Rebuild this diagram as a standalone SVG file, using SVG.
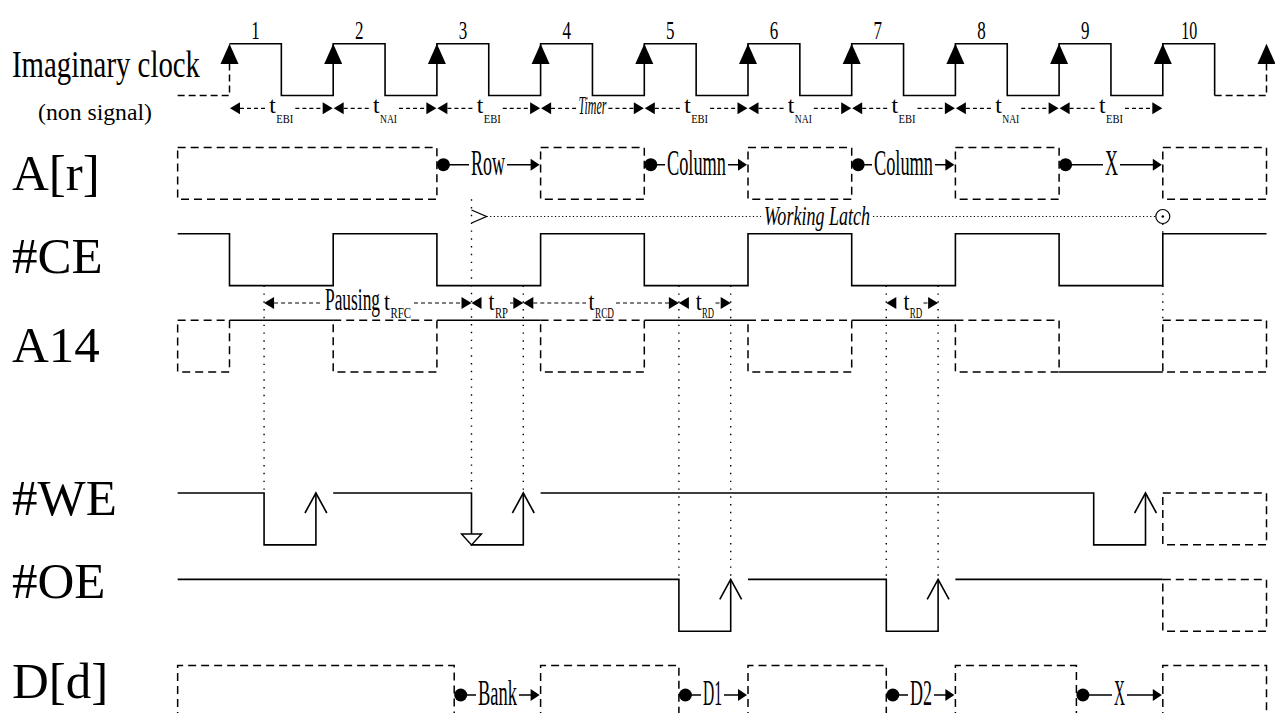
<svg xmlns="http://www.w3.org/2000/svg" xmlns:xlink="http://www.w3.org/1999/xlink" width="1275" height="713" viewBox="0 0 1275 713" font-family="'Liberation Serif', 'Times New Roman', serif">
<style>
text{fill:#000}
.s{fill:none;stroke:#000;stroke-width:1.6}
.d{fill:none;stroke:#000;stroke-width:1.5;stroke-dasharray:8 5}
.dc{fill:none;stroke:#000;stroke-width:1.5;stroke-dasharray:7 4}
.td{fill:none;stroke:#000;stroke-width:1.2;stroke-dasharray:4 3}
.dv{fill:none;stroke:#000;stroke-width:1.4;stroke-dasharray:1.4 6.4}
.dh{fill:none;stroke:#000;stroke-width:1.2;stroke-dasharray:1.2 2.4}
.f{fill:#000;stroke:none}
.big{font-size:51px}
.num{font-size:25px}
.t1{font-size:23px}
.s1{font-size:13px}
.t2{font-size:26px}
.s2{font-size:15px}
.mid{font-size:35px}
</style>
<defs>
<path id="up" d="M0,0 L-9,20.3 L9,20.3 Z" fill="#000"/>
<path id="tl" d="M0,0 L10,-6 L10,6 Z" fill="#000"/>
<path id="tr" d="M0,0 L-10,-6 L-10,6 Z" fill="#000"/>
<path id="ar" d="M0,0 L-9,-6 L-9,6 Z" fill="#000"/>
<path id="chev" d="M-10.9,20 L0,0 L10.9,20" fill="none" stroke="#000" stroke-width="1.6"/>
</defs>

<g id="labels">
<text x="12" y="77" style="font-size:37px" textLength="188" lengthAdjust="spacingAndGlyphs">Imaginary clock</text>
<text x="38" y="120" style="font-size:24px" textLength="114" lengthAdjust="spacingAndGlyphs">(non signal)</text>
<text class="big" x="12" y="190">A[r]</text>
<text class="big" x="12" y="273">#CE</text>
<text class="big" x="12" y="362">A14</text>
<text class="big" x="12" y="515">#WE</text>
<text class="big" x="12" y="598">#OE</text>
<text class="big" x="12" y="698">D[d]</text>
</g>

<g id="clock">
<path class="s" d="M229.5,43.7 H281.35 V95.55 H333.2 V43.7 H385.05 V95.55 H436.9 V43.7 H488.75 V95.55 H540.6 V43.7 H592.45 V95.55 H644.3 V43.7 H696.15 V95.55 H748 V43.7 H799.85 V95.55 H851.7 V43.7 H903.55 V95.55 H955.4 V43.7 H1007.25 V95.55 H1059.1 V43.7 H1110.95 V95.55 H1162.8 V43.7 H1214.65 V95.55"/>
<path class="dc" d="M177.65,95.55 H229.5 V64"/>
<path class="dc" d="M1214.65,95.55 H1266.5 V64"/>
<use xlink:href="#up" x="229.5" y="43.7"/>
<use xlink:href="#up" x="333.2" y="43.7"/>
<use xlink:href="#up" x="436.9" y="43.7"/>
<use xlink:href="#up" x="540.6" y="43.7"/>
<use xlink:href="#up" x="644.3" y="43.7"/>
<use xlink:href="#up" x="748" y="43.7"/>
<use xlink:href="#up" x="851.7" y="43.7"/>
<use xlink:href="#up" x="955.4" y="43.7"/>
<use xlink:href="#up" x="1059.1" y="43.7"/>
<use xlink:href="#up" x="1162.8" y="43.7"/>
<use xlink:href="#up" x="1266.5" y="43.7"/>
<text class="num" x="251.3" y="39" textLength="8.5" lengthAdjust="spacingAndGlyphs">1</text>
<text class="num" x="355" y="39" textLength="8.5" lengthAdjust="spacingAndGlyphs">2</text>
<text class="num" x="458.7" y="39" textLength="8.5" lengthAdjust="spacingAndGlyphs">3</text>
<text class="num" x="562.4" y="39" textLength="8.5" lengthAdjust="spacingAndGlyphs">4</text>
<text class="num" x="666.1" y="39" textLength="8.5" lengthAdjust="spacingAndGlyphs">5</text>
<text class="num" x="769.8" y="39" textLength="8.5" lengthAdjust="spacingAndGlyphs">6</text>
<text class="num" x="873.5" y="39" textLength="8.5" lengthAdjust="spacingAndGlyphs">7</text>
<text class="num" x="977.2" y="39" textLength="8.5" lengthAdjust="spacingAndGlyphs">8</text>
<text class="num" x="1080.9" y="39" textLength="8.5" lengthAdjust="spacingAndGlyphs">9</text>
<text class="num" x="1181.3" y="39" textLength="16" lengthAdjust="spacingAndGlyphs">10</text>
</g>

<g id="clock-intervals">
<use xlink:href="#tl" x="230" y="108.3"/><use xlink:href="#tr" x="332.7" y="108.3"/>
<use xlink:href="#tl" x="333.7" y="108.3"/><use xlink:href="#tr" x="436.4" y="108.3"/>
<use xlink:href="#tl" x="437.4" y="108.3"/><use xlink:href="#tr" x="540.1" y="108.3"/>
<use xlink:href="#tl" x="541.1" y="108.3"/><use xlink:href="#tr" x="643.8" y="108.3"/>
<use xlink:href="#tl" x="644.8" y="108.3"/><use xlink:href="#tr" x="747.5" y="108.3"/>
<use xlink:href="#tl" x="748.5" y="108.3"/><use xlink:href="#tr" x="851.2" y="108.3"/>
<use xlink:href="#tl" x="852.2" y="108.3"/><use xlink:href="#tr" x="954.9" y="108.3"/>
<use xlink:href="#tl" x="955.9" y="108.3"/><use xlink:href="#tr" x="1058.6" y="108.3"/>
<use xlink:href="#tl" x="1059.6" y="108.3"/><use xlink:href="#tr" x="1162.3" y="108.3"/>
<path class="td" d="M240,108.3 H267.35 M295.35,108.3 H322.7 M343.7,108.3 H371.05 M399.05,108.3 H426.4 M447.4,108.3 H474.75 M502.75,108.3 H530.1 M551.1,108.3 H576.45 M608.45,108.3 H633.8 M654.8,108.3 H682.15 M710.15,108.3 H737.5 M758.5,108.3 H785.85 M813.85,108.3 H841.2 M862.2,108.3 H889.55 M917.55,108.3 H944.9 M965.9,108.3 H993.25 M1021.25,108.3 H1048.6 M1069.6,108.3 H1096.95 M1124.95,108.3 H1152.3"/>
<text class="t1" x="269.35" y="113.3" textLength="6.5" lengthAdjust="spacingAndGlyphs">t</text><text class="s1" x="276.35" y="122.5" textLength="17" lengthAdjust="spacingAndGlyphs">EBI</text>
<text class="t1" x="373.05" y="113.3" textLength="6.5" lengthAdjust="spacingAndGlyphs">t</text><text class="s1" x="380.05" y="122.5" textLength="17" lengthAdjust="spacingAndGlyphs">NAI</text>
<text class="t1" x="476.75" y="113.3" textLength="6.5" lengthAdjust="spacingAndGlyphs">t</text><text class="s1" x="483.75" y="122.5" textLength="17" lengthAdjust="spacingAndGlyphs">EBI</text>
<text x="578.45" y="114" style="font-size:25px" font-style="italic" textLength="28" lengthAdjust="spacingAndGlyphs">Timer</text>
<text class="t1" x="684.15" y="113.3" textLength="6.5" lengthAdjust="spacingAndGlyphs">t</text><text class="s1" x="691.15" y="122.5" textLength="17" lengthAdjust="spacingAndGlyphs">EBI</text>
<text class="t1" x="787.85" y="113.3" textLength="6.5" lengthAdjust="spacingAndGlyphs">t</text><text class="s1" x="794.85" y="122.5" textLength="17" lengthAdjust="spacingAndGlyphs">NAI</text>
<text class="t1" x="891.55" y="113.3" textLength="6.5" lengthAdjust="spacingAndGlyphs">t</text><text class="s1" x="898.55" y="122.5" textLength="17" lengthAdjust="spacingAndGlyphs">EBI</text>
<text class="t1" x="995.25" y="113.3" textLength="6.5" lengthAdjust="spacingAndGlyphs">t</text><text class="s1" x="1002.25" y="122.5" textLength="17" lengthAdjust="spacingAndGlyphs">NAI</text>
<text class="t1" x="1098.95" y="113.3" textLength="6.5" lengthAdjust="spacingAndGlyphs">t</text><text class="s1" x="1105.95" y="122.5" textLength="17" lengthAdjust="spacingAndGlyphs">EBI</text>
</g>

<g id="sig-ar">
<rect class="d" x="177.65" y="147.4" width="259.25" height="51.85"/>
<rect class="d" x="540.6" y="147.4" width="103.7" height="51.85"/>
<rect class="d" x="748" y="147.4" width="103.7" height="51.85"/>
<rect class="d" x="955.4" y="147.4" width="103.7" height="51.85"/>
<rect class="d" x="1162.8" y="147.4" width="103.7" height="51.85"/>
<circle class="f" cx="443.4" cy="164.7" r="6.5"/>
<circle class="f" cx="650.8" cy="164.7" r="6.5"/>
<circle class="f" cx="858.2" cy="164.7" r="6.5"/>
<circle class="f" cx="1065.6" cy="164.7" r="6.5"/>
<path class="s" d="M449,164.7 H469 M507,164.7 H531 M656,164.7 H665 M728,164.7 H738.5 M863,164.7 H872 M935,164.7 H946 M1071,164.7 H1103 M1120,164.7 H1153"/>
<use xlink:href="#ar" x="539.6" y="164.7"/>
<use xlink:href="#ar" x="747" y="164.7"/>
<use xlink:href="#ar" x="954.4" y="164.7"/>
<use xlink:href="#ar" x="1161.8" y="164.7"/>
<text class="mid" x="471" y="174.5" textLength="34" lengthAdjust="spacingAndGlyphs">Row</text>
<text class="mid" x="667" y="174.5" textLength="59" lengthAdjust="spacingAndGlyphs">Column</text>
<text class="mid" x="874" y="174.5" textLength="59" lengthAdjust="spacingAndGlyphs">Column</text>
<text class="mid" x="1105" y="174.5" textLength="13" lengthAdjust="spacingAndGlyphs">X</text>
</g>

<g id="sig-ce">
<path class="s" d="M177.65,233.8 H229.5 V285.65 H333.2 V233.8 H436.9 V285.65 H540.6 V233.8 H644.3 V285.65 H748 V233.8 H851.7 V285.65 H955.4 V233.8 H1059.1 V285.65 H1162.8 V233.8 H1266.5"/>
</g>

<g id="sig-a14">
<rect class="d" x="177.65" y="320.2" width="51.85" height="51.85"/>
<rect class="d" x="333.2" y="320.2" width="103.7" height="51.85"/>
<rect class="d" x="540.6" y="320.2" width="103.7" height="51.85"/>
<rect class="d" x="748" y="320.2" width="103.7" height="51.85"/>
<rect class="d" x="955.4" y="320.2" width="103.7" height="51.85"/>
<rect class="d" x="1162.8" y="320.2" width="103.7" height="51.85"/>
<path class="s" d="M229.5,320.2 H333.2 M436.9,320.2 H540.6 M644.3,320.2 H748 M851.7,320.2 H955.4 M1059.1,372.05 H1162.8"/>
</g>

<g id="sig-we">
<path class="s" d="M177.65,493 H264.07 V544.85 H315.9 V493"/>
<path class="s" d="M333.2,493 H471.5 V544.85 H523.3 V493"/>
<path class="s" d="M540.6,493 H1093.7 V544.85 H1145.5 V493"/>
<use xlink:href="#chev" x="315.9" y="493"/>
<use xlink:href="#chev" x="523.3" y="493"/>
<use xlink:href="#chev" x="1145.5" y="493"/>
<path d="M461.5,534 H481.5 L471.5,544.85 Z" fill="#fff" stroke="#000" stroke-width="1.4"/>
<rect class="d" x="1162.8" y="493" width="103.7" height="51.85"/>
</g>

<g id="sig-oe">
<path class="s" d="M177.65,579.4 H678.9 V631.25 H730.7 V579.4"/>
<path class="s" d="M748,579.4 H886.3 V631.25 H938.1 V579.4"/>
<path class="s" d="M955.4,579.4 H1162.8"/>
<use xlink:href="#chev" x="730.7" y="579.4"/>
<use xlink:href="#chev" x="938.1" y="579.4"/>
<rect class="d" x="1162.8" y="579.4" width="103.7" height="51.85"/>
</g>

<g id="sig-d">
<path class="d" d="M177.65,720 V665.5 H454.2 V720 M540.6,720 V665.5 H678.9 V720 M748,720 V665.5 H886.3 V720 M955.4,720 V665.5 H1076.4 V720 M1162.8,720 V665.5 H1266.5 V720"/>
<circle class="f" cx="460.7" cy="695" r="6.5"/>
<circle class="f" cx="685.4" cy="695" r="6.5"/>
<circle class="f" cx="892.8" cy="695" r="6.5"/>
<circle class="f" cx="1082.9" cy="695" r="6.5"/>
<path class="s" d="M466,695 H476 M519,695 H531 M690,695 H701 M724,695 H738.5 M898,695 H908 M934,695 H946 M1088,695 H1112 M1127,695 H1153"/>
<use xlink:href="#ar" x="539.6" y="695"/>
<use xlink:href="#ar" x="747" y="695"/>
<use xlink:href="#ar" x="954.4" y="695"/>
<use xlink:href="#ar" x="1161.8" y="695"/>
<text class="mid" x="478" y="705" textLength="39" lengthAdjust="spacingAndGlyphs">Bank</text>
<text class="mid" x="703" y="705" textLength="19" lengthAdjust="spacingAndGlyphs">D1</text>
<text class="mid" x="910" y="705" textLength="22" lengthAdjust="spacingAndGlyphs">D2</text>
<text class="mid" x="1114" y="705" textLength="11" lengthAdjust="spacingAndGlyphs">X</text>
</g>

<g id="connectors">
<path class="dv" d="M471.5,199.25 V493 M264.07,285.65 V493 M523.3,285.65 V493 M678.9,285.65 V579.4 M730.7,285.65 V579.4 M886.3,285.65 V579.4 M938.1,285.65 V579.4 M1162.8,223.5 V233.8 M1162.8,285.65 V320.2"/>
<path class="dh" d="M486.5,216.5 H761 M873,216.5 H1155.8"/>
<path d="M471.5,210 L486.5,216.5 L471.5,223" fill="none" stroke="#000" stroke-width="1.3"/>
<text x="764" y="225" style="font-size:28px" font-style="italic" textLength="106" lengthAdjust="spacingAndGlyphs">Working Latch</text>
<circle cx="1162.8" cy="216.5" r="7" fill="#fff" stroke="#000" stroke-width="1.2"/>
<circle class="f" cx="1162.8" cy="216.5" r="1.3"/>
<use xlink:href="#tl" x="264.07" y="303"/><use xlink:href="#tr" x="471.5" y="303"/>
<use xlink:href="#tl" x="471.5" y="303"/><use xlink:href="#tr" x="523.3" y="303"/>
<use xlink:href="#tl" x="523.3" y="303"/><use xlink:href="#tr" x="678.9" y="303"/>
<use xlink:href="#tl" x="678.9" y="303"/><use xlink:href="#tr" x="730.7" y="303"/>
<use xlink:href="#tl" x="886.3" y="303"/><use xlink:href="#tr" x="938.1" y="303"/>
<path class="td" d="M274.07,303 H322 M414,303 H461.5 M510,303 H513.3 M533.3,303 H586 M616,303 H668.9 M715.5,303 H720.7 M923.5,303 H928.1"/>
<text x="325" y="310" style="font-size:31px" textLength="55" lengthAdjust="spacingAndGlyphs">Pausing</text>
<text class="t2" x="384" y="310" textLength="6" lengthAdjust="spacingAndGlyphs">t</text><text class="s2" x="390.5" y="317.5" textLength="20.5" lengthAdjust="spacingAndGlyphs">RFC</text>
<text class="t2" x="488.6" y="310" textLength="6" lengthAdjust="spacingAndGlyphs">t</text><text class="s2" x="495" y="317.5" textLength="13" lengthAdjust="spacingAndGlyphs">RP</text>
<text class="t2" x="588.6" y="310" textLength="6" lengthAdjust="spacingAndGlyphs">t</text><text class="s2" x="595" y="317.5" textLength="19" lengthAdjust="spacingAndGlyphs">RCD</text>
<text class="t2" x="695.7" y="310" textLength="6" lengthAdjust="spacingAndGlyphs">t</text><text class="s2" x="702" y="317.5" textLength="12" lengthAdjust="spacingAndGlyphs">RD</text>
<text class="t2" x="903.5" y="310" textLength="6" lengthAdjust="spacingAndGlyphs">t</text><text class="s2" x="909.8" y="317.5" textLength="12.5" lengthAdjust="spacingAndGlyphs">RD</text>
</g>
</svg>
